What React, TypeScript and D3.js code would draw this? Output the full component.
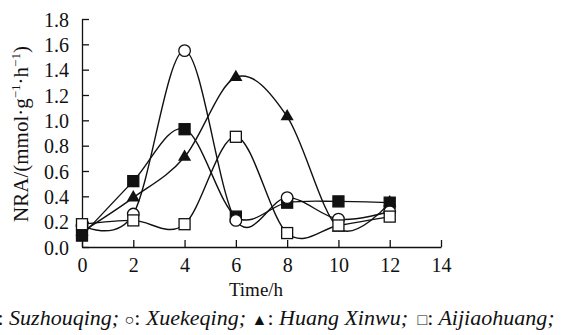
import React, { useEffect, useRef } from 'react';
import * as d3 from 'd3';

// hours sampled
const hours = [0, 2, 4, 6, 8, 10, 12];
// NRA values per cultivar
const suzhouqing = [0.09, 0.52, 0.93, 0.24, 0.35, 0.36, 0.35];
const xuekeqing = [0.17, 0.26, 1.55, 0.21, 0.39, 0.22, 0.28];
const huangXinwu = [0.12, 0.39, 0.71, 1.34, 1.03, 0.15, 0.35];
const aijiaohuang = [0.18, 0.21, 0.18, 0.87, 0.11, 0.17, 0.24];

const xTicks = [0, 2, 4, 6, 8, 10, 12, 14];
const yTicks = [0, 0.2, 0.4, 0.6, 0.8, 1.0, 1.2, 1.4, 1.6, 1.8];

const series = [
  { name: 'Suzhouqing', values: suzhouqing, marker: 'squareFilled' },
  { name: 'Xuekeqing', values: xuekeqing, marker: 'circle' },
  { name: 'Huang Xinwu', values: huangXinwu, marker: 'triangle' },
  { name: 'Aijiaohuang', values: aijiaohuang, marker: 'squareOpen' },
];

const W = 563, H = 335;
const font = 'Liberation Serif, DejaVu Serif, Times New Roman, serif';

const App = () => {
  const ref = useRef<SVGSVGElement>(null);

  useEffect(() => {
    const svg = d3.select(ref.current);
    svg.selectAll('*').remove();

    const x = d3.scaleLinear().domain([0, 14]).range([82, 441]);
    const y = d3.scaleLinear().domain([0, 1.8]).range([247, 19]);

    // axes, ticks pointing inward
    const xAxis = svg.append('g').attr('transform', 'translate(0,247)')
      .call(d3.axisBottom(x).tickValues(xTicks).tickSizeInner(-7).tickSizeOuter(0).tickPadding(11).tickFormat(d3.format('d')));
    const yAxis = svg.append('g').attr('transform', 'translate(82,0)')
      .call(d3.axisLeft(y).tickValues(yTicks).tickSizeInner(-7).tickSizeOuter(0).tickPadding(13).tickFormat(d3.format('.1f')));
    [xAxis, yAxis].forEach(a => {
      a.attr('font-family', font).attr('font-size', 20);
      a.select('.domain').attr('stroke', '#111').attr('stroke-width', 1.3);
      a.selectAll('.tick line').attr('stroke', '#111').attr('stroke-width', 1.3);
      a.selectAll('.tick text').attr('fill', '#111');
    });
    xAxis.selectAll('.tick text').attr('dy', '0.71em');
    yAxis.selectAll('.tick text').attr('dy', '0.35em');

    const line = d3.line<number>()
      .x((_, i) => x(hours[i]))
      .y(d => y(d))
      .curve(d3.curveCardinal.tension(0));

    series.forEach(s => {
      svg.append('path')
        .attr('d', line(s.values))
        .attr('fill', 'none')
        .attr('stroke', '#111')
        .attr('stroke-width', 1.4);
    });

    series.forEach(s => {
      const g = svg.append('g');
      s.values.forEach((v, i) => {
        const cx = x(hours[i]), cy = y(v);
        if (s.marker === 'circle') {
          g.append('circle').attr('cx', cx).attr('cy', cy).attr('r', 5.8)
            .attr('fill', '#fff').attr('stroke', '#111').attr('stroke-width', 1.3);
        } else if (s.marker === 'triangle') {
          g.append('path')
            .attr('d', d3.symbol(d3.symbolTriangle, 75)())
            .attr('transform', `translate(${cx},${cy})`)
            .attr('fill', '#111');
        } else {
          const filled = s.marker === 'squareFilled';
          g.append('rect').attr('x', cx - 5.5).attr('y', cy - 5.5).attr('width', 11).attr('height', 11)
            .attr('fill', filled ? '#111' : '#fff').attr('stroke', '#111').attr('stroke-width', 1.3);
        }
      });
    });

    // axis titles
    svg.append('text').attr('x', 256).attr('y', 296)
      .attr('text-anchor', 'middle').attr('font-family', font).attr('font-size', 19).attr('fill', '#111')
      .text('Time/h');

    const yl = svg.append('text')
      .attr('transform', 'translate(28,134) rotate(-90)')
      .attr('text-anchor', 'middle').attr('font-family', font).attr('font-size', 21).attr('fill', '#111');
    yl.append('tspan').text('NRA/(mmol·g');
    yl.append('tspan').attr('dy', -8).attr('font-size', 13).text('−1');
    yl.append('tspan').attr('dy', 8).text('·h');
    yl.append('tspan').attr('dy', -8).attr('font-size', 13).text('−1');
    yl.append('tspan').attr('dy', 8).text(')');

    // caption legend, clipped at the left edge like the source figure
    const cap = svg.append('text').attr('x', 560).attr('y', 325)
      .attr('text-anchor', 'end').attr('font-family', font).attr('font-size', 22).attr('fill', '#111')
      .attr('xml:space', 'preserve');
    series.forEach((s, i) => {
      const sym = s.marker === 'squareFilled' ? '■' : s.marker === 'circle' ? '○' : s.marker === 'triangle' ? '▲' : '□';
      cap.append('tspan').attr('font-size', 16).text(`${i === 3 ? ' ' : ''}${sym}`);
      cap.append('tspan').text(':');
      cap.append('tspan').attr('font-style', 'italic').text(` ${s.name}; `);
    });
  }, []);

  return (
    <svg ref={ref} width={W} height={H}
      style={{ position: 'absolute', left: 0, top: 0, background: '#fff' }} />
  );
};

export default App;
